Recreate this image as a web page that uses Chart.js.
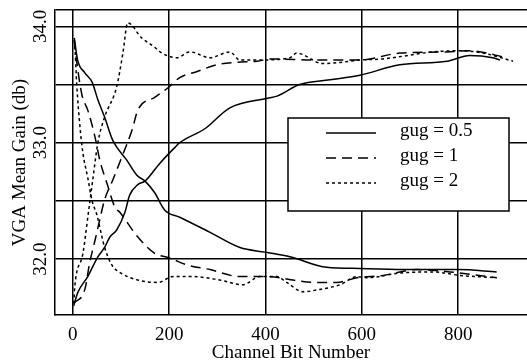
<!DOCTYPE html>
<html>
<head>
<meta charset="utf-8">
<script src="https://cdn.jsdelivr.net/npm/chart.js@4.4.1/dist/chart.umd.min.js"></script>
<style>
html, body { margin: 0; padding: 0; background: #fff; }
</style>
</head>
<body>
<canvas id="chart" width="527" height="361"></canvas>
<script>
// values: x = channel bit number, y = VGA mean gain (db)
const xTicks = [0, 200, 400, 600, 800];
const yTicks = [32.0, 32.5, 33.0, 33.5, 34.0];
const yLabelled = [32.0, 33.0, 34.0];
const xMin = -37, xMax = 943;
const yMin = 31.52, yMax = 34.14;

const legendLabels = ['gug = 0.5', 'gug = 1', 'gug = 2'];

// gug = 0.5, started high / started low
const bitsSolidDown = [3, 10, 25, 40, 52, 66, 83, 112, 133, 150, 170, 191, 222, 285, 347, 399, 451, 527, 596, 700, 800, 880];
const gainSolidDown = [33.90, 33.71, 33.60, 33.52, 33.37, 33.22, 33.02, 32.85, 32.72, 32.67, 32.57, 32.42, 32.36, 32.23, 32.10, 32.06, 32.02, 31.93, 31.92, 31.91, 31.91, 31.89];
const bitsSolidUp = [2, 10, 31, 52, 66, 77, 91, 108, 118, 135, 150, 180, 212, 222, 274, 326, 401, 424, 471, 534, 596, 679, 777, 824, 872, 887];
const gainSolidUp = [31.60, 31.71, 31.85, 32.02, 32.10, 32.19, 32.25, 32.40, 32.55, 32.64, 32.67, 32.82, 32.96, 33.00, 33.12, 33.30, 33.38, 33.40, 33.50, 33.54, 33.58, 33.67, 33.70, 33.75, 33.73, 33.71];

// gug = 1
const bitsDashDown = [3, 8, 19, 31, 46, 56, 71, 87, 98, 135, 170, 201, 237, 285, 347, 388, 430, 457, 499, 548, 590, 644, 714, 783, 880];
const gainDashDown = [33.88, 33.70, 33.41, 33.28, 33.05, 32.85, 32.65, 32.45, 32.40, 32.19, 32.05, 32.01, 31.95, 31.91, 31.85, 31.85, 31.84, 31.82, 31.80, 31.80, 31.84, 31.86, 31.91, 31.89, 31.84];
const bitsDashUp = [2, 25, 35, 46, 56, 66, 83, 102, 123, 135, 170, 197, 222, 257, 299, 341, 382, 415, 500, 596, 679, 777, 824, 901];
const gainDashUp = [31.62, 31.74, 31.97, 32.16, 32.34, 32.51, 32.68, 32.88, 33.11, 33.28, 33.39, 33.47, 33.56, 33.61, 33.67, 33.69, 33.70, 33.72, 33.71, 33.71, 33.77, 33.78, 33.79, 33.73];

// gug = 2
const bitsDotDown = [3, 5, 8, 15, 21, 31, 40, 50, 60, 66, 81, 100, 135, 177, 208, 249, 305, 353, 388, 424, 444, 478, 513, 555, 590, 610, 679, 748, 804, 880];
const gainDotDown = [33.88, 33.77, 33.51, 33.13, 32.91, 32.70, 32.50, 32.38, 32.20, 32.10, 31.95, 31.88, 31.82, 31.80, 31.85, 31.85, 31.82, 31.78, 31.85, 31.85, 31.80, 31.72, 31.74, 31.78, 31.85, 31.84, 31.88, 31.89, 31.86, 31.84];
const bitsDotUp = [2, 4, 21, 33, 42, 52, 66, 91, 104, 114, 143, 170, 181, 216, 243, 285, 326, 347, 382, 451, 465, 519, 555, 596, 644, 748, 804, 852, 914];
const gainDotUp = [31.62, 31.76, 32.05, 32.42, 32.70, 33.00, 33.22, 33.48, 33.77, 34.03, 33.90, 33.82, 33.78, 33.73, 33.78, 33.73, 33.78, 33.71, 33.71, 33.73, 33.77, 33.68, 33.69, 33.71, 33.72, 33.78, 33.79, 33.77, 33.70];

const dashes = [[], [10, 6], [3, 3]];
const serif = "'Liberation Serif', 'Times New Roman', serif";

function pts(xs, ys) {
  return xs.map((x, i) => ({ x: x, y: ys[i] }));
}

function curve(xs, ys, k) {
  return {
    data: pts(xs, ys),
    borderColor: '#000',
    borderWidth: 1.5,
    borderDash: dashes[k],
    pointRadius: 0,
    fill: false,
    cubicInterpolationMode: 'monotone'
  };
}

// rotated y tick labels and the boxed legend
const extras = {
  id: 'extras',
  afterDraw(chart) {
    const c = chart.ctx;
    const ys = chart.scales.y;
    c.save();
    c.fillStyle = '#000';
    c.font = '19px ' + serif;
    c.textAlign = 'center';
    c.textBaseline = 'middle';
    yLabelled.forEach(v => {
      c.save();
      c.translate(41, ys.getPixelForValue(v));
      c.rotate(-Math.PI / 2);
      c.fillText(v.toFixed(1), 0, 0);
      c.restore();
    });

    // legend
    c.fillStyle = '#fff';
    c.fillRect(288, 118, 221, 93);
    c.strokeStyle = '#000';
    c.lineWidth = 1.5;
    c.strokeRect(288, 118, 221, 93);
    legendLabels.forEach((t, i) => {
      const y = 133 + i * 25;
      c.setLineDash(dashes[i]);
      c.beginPath();
      c.moveTo(326, y);
      c.lineTo(376, y);
      c.stroke();
      c.setLineDash([]);
      c.fillStyle = '#000';
      c.textAlign = 'left';
      c.fillText(t, 400, y - 2);
    });
    c.restore();
  }
};

new Chart(document.getElementById('chart'), {
  type: 'line',
  data: {
    datasets: [
      curve(bitsSolidDown, gainSolidDown, 0),
      curve(bitsSolidUp, gainSolidUp, 0),
      curve(bitsDashDown, gainDashDown, 1),
      curve(bitsDashUp, gainDashUp, 1),
      curve(bitsDotDown, gainDotDown, 2),
      curve(bitsDotUp, gainDotUp, 2)
    ]
  },
  plugins: [extras],
  options: {
    responsive: false,
    animation: false,
    layout: { padding: { top: 10, right: 0, left: 0, bottom: 0 } },
    plugins: { legend: { display: false }, tooltip: { enabled: false } },
    scales: {
      x: {
        type: 'linear',
        min: xMin,
        max: xMax,
        afterBuildTicks: s => { s.ticks = xTicks.map(v => ({ value: v })); },
        afterFit: s => { s.height = 46; },
        grid: { color: '#000', lineWidth: 1.5, drawTicks: false },
        border: { display: true, color: '#000', width: 1.5 },
        ticks: { color: '#000', padding: 9, maxRotation: 0, font: { family: serif, size: 19 } },
        title: { display: true, text: 'Channel Bit Number', color: '#000', padding: { top: 0, bottom: -3 }, font: { family: serif, size: 19 } }
      },
      y: {
        min: yMin,
        max: yMax,
        afterBuildTicks: s => { s.ticks = yTicks.concat([yMax]).map(v => ({ value: v })); },
        afterFit: s => { s.width = 55; },
        grid: { color: '#000', lineWidth: 1.5, drawTicks: false },
        border: { display: true, color: '#000', width: 1.5 },
        ticks: { display: false },
        title: { display: true, text: 'VGA Mean Gain (db)', color: '#000', padding: { top: 9, bottom: 0 }, font: { family: serif, size: 19 } }
      }
    }
  }
});
</script>
</body>
</html>
